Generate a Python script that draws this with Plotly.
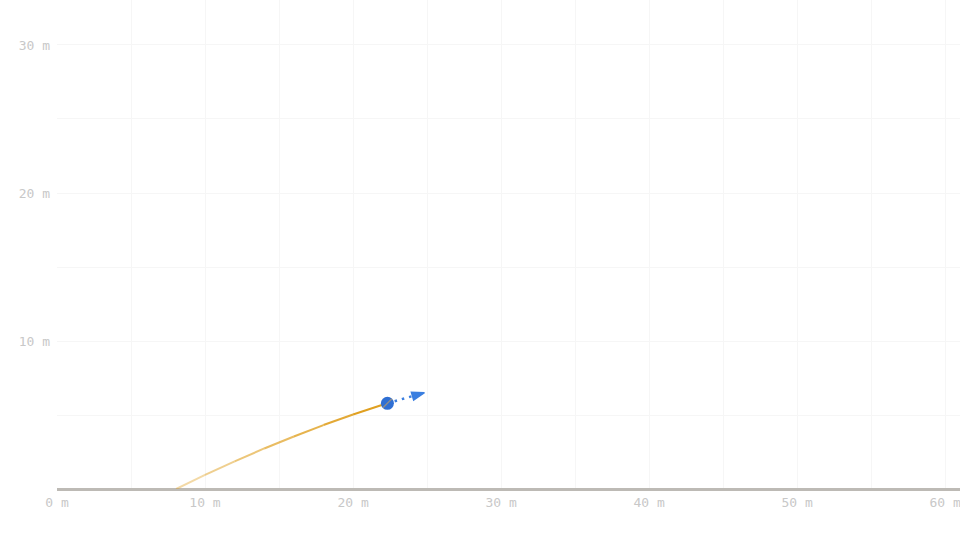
import math
import plotly.graph_objects as go

# Trajectory points (metres)
traj_x = [8.05, 10.0, 12.0, 14.0, 16.0, 18.0, 20.0, 22.3]
traj_y = [0.0, 0.95, 1.87, 2.74, 3.55, 4.32, 5.03, 5.79]

# Ball position and velocity arrow tip
ball_x = [22.32]
ball_y = [5.79]
arrow_x = [22.32, 24.82]
arrow_y = [5.79, 6.51]

x_ticks = [0, 10, 20, 30, 40, 50, 60]
y_ticks = [10, 20, 30]

fig = go.Figure()

# fading trail: each segment gets stronger towards the ball
n = len(traj_x) - 1
for i in range(n):
    alpha = 0.3 + 0.7 * (i + 1) / n
    fig.add_trace(go.Scatter(
        x=traj_x[i:i + 2], y=traj_y[i:i + 2], mode='lines',
        line=dict(color=f'rgba(224,160,32,{alpha:.2f})', width=2),
        hoverinfo='skip', showlegend=False))

# velocity arrow: dotted shaft + head (both axes use the same px/m)
dx = arrow_x[1] - arrow_x[0]
dy = arrow_y[1] - arrow_y[0]
head_angle = math.degrees(math.atan2(dx, dy))
arrow_blue = '#3b7fe0'

fig.add_trace(go.Scatter(
    x=[arrow_x[0], arrow_x[0] + 0.8 * dx], y=[arrow_y[0], arrow_y[0] + 0.8 * dy],
    mode='lines', line=dict(color=arrow_blue, width=2.5, dash='2.5px,5px'),
    hoverinfo='skip', showlegend=False))
fig.add_trace(go.Scatter(
    x=arrow_x[1:], y=arrow_y[1:], mode='markers',
    marker=dict(symbol='arrow', size=13, angle=head_angle, color=arrow_blue,
                opacity=1, line=dict(width=1.5, color=arrow_blue)),
    hoverinfo='skip', showlegend=False))

fig.add_trace(go.Scatter(
    x=ball_x, y=ball_y, mode='markers',
    marker=dict(size=13, color='#2f6fd3', line=dict(width=0)),
    hoverinfo='skip', showlegend=False))
fig.add_trace(go.Scatter(
    x=ball_x, y=ball_y, mode='markers',
    marker=dict(symbol='line-ne', size=9, line=dict(width=1.5, color='#8c8c8c')),
    hoverinfo='skip', showlegend=False))

tick_font = dict(family='DejaVu Sans Mono', size=13, color='#c8c8c8')
grid = '#f6f6f6'

fig.update_layout(
    width=960, height=540,
    margin=dict(l=57, r=0, t=0, b=51),
    paper_bgcolor='white', plot_bgcolor='white',
    xaxis=dict(range=[0, 61], tickvals=x_ticks,
               ticktext=[f'{v} m' for v in x_ticks],
               tickfont=tick_font, showgrid=True, gridcolor=grid,
               gridwidth=1, zeroline=False, showline=False, ticks='',
               minor=dict(dtick=5, tick0=0, showgrid=True, gridcolor=grid),
               ticklabelstandoff=4, ticklabeloverflow='allow', fixedrange=True),
    yaxis=dict(range=[0, 33.04], tickvals=y_ticks,
               ticktext=[f'{v} m' for v in y_ticks],
               tickfont=tick_font, showgrid=True, gridcolor=grid,
               gridwidth=1, zeroline=True, zerolinecolor='#bdbab5',
               zerolinewidth=2.5, showline=False, ticks='',
               minor=dict(dtick=5, tick0=0, showgrid=True, gridcolor=grid),
               ticklabelstandoff=6, ticklabeloverflow='allow', fixedrange=True),
)

fig.write_html('out.html', config={'displayModeBar': False},
               post_script='document.body.style.margin="0";document.body.style.overflow="hidden";')
